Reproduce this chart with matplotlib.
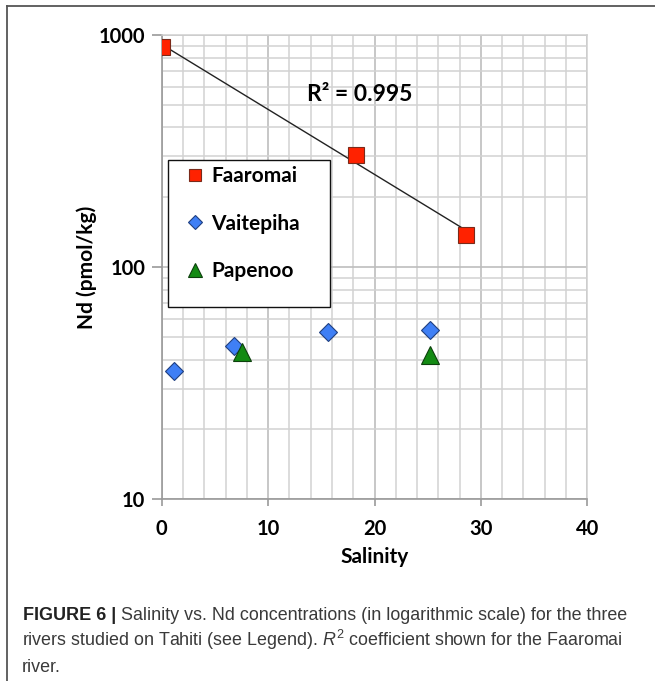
import numpy as np
import matplotlib
matplotlib.use("Agg")
import matplotlib.pyplot as plt
from matplotlib.lines import Line2D
from matplotlib.patches import Rectangle
from matplotlib.ticker import FixedLocator, LogLocator, NullFormatter

# data
faaromai_sal = [0.0, 18.3, 28.6]
faaromai_nd = [885, 303, 137]
vaitepiha_sal = [1.2, 6.8, 15.6, 25.2]
vaitepiha_nd = [35.7, 45.9, 52.7, 53.4]
papenoo_sal = [7.5, 25.2]
papenoo_nd = [43.0, 42.0]
x_ticks = [0, 10, 20, 30, 40]
y_ticks = [10, 100, 1000]
r2_text = "R² = 0.995"

plt.rcParams['font.family'] = ['Lato', 'DejaVu Sans']

fig = plt.figure(figsize=(6.55, 6.81), dpi=100)
ax = fig.add_axes([0.2469, 0.2668, 0.6498, 0.6818])

ax.set_yscale("log")
ax.set_xlim(0, 40)
ax.set_ylim(10, 1000)

ax.xaxis.set_major_locator(FixedLocator(x_ticks))
ax.xaxis.set_minor_locator(FixedLocator(np.arange(0, 41, 2)))
ax.yaxis.set_major_locator(FixedLocator(y_ticks))
ax.yaxis.set_minor_locator(LogLocator(base=10, subs=np.arange(2, 10)))
ax.yaxis.set_minor_formatter(NullFormatter())
ax.set_yticklabels([str(v) for v in y_ticks])
ax.set_xticklabels([str(v) for v in x_ticks])

ax.grid(which="major", color="#bdbdbd", lw=1.2)
ax.grid(which="minor", color="#d2d2d2", lw=1.1)
ax.set_axisbelow(True)

for s in ["top", "right"]:
    ax.spines[s].set_color("#cfcfcf")
    ax.spines[s].set_linewidth(1.1)
for s in ["left", "bottom"]:
    ax.spines[s].set_color("#9a9a9a")
    ax.spines[s].set_linewidth(1.2)

ax.tick_params(axis="y", which="major", length=7, color="#9a9a9a", width=1.2, pad=5)
ax.tick_params(axis="x", which="major", length=5, color="#9a9a9a", width=1.2, pad=9)
ax.tick_params(which="minor", length=0)
for lab in ax.get_xticklabels() + ax.get_yticklabels():
    lab.set_fontweight("bold")
    lab.set_fontsize(14.5)

ax.set_xlabel("Salinity", fontsize=15, fontweight="bold")
ax.set_ylabel("Nd (pmol/kg)", fontsize=15, fontweight="bold")
ax.xaxis.set_label_coords(0.5, -0.103)
ax.yaxis.set_label_coords(-0.152, 0.5)

# exponential trend line for Faaromai
fx = np.array(faaromai_sal)
coef = np.polyfit(fx, np.log10(faaromai_nd), 1)
xs = np.linspace(fx.min(), fx.max(), 50)
ax.plot(xs, 10 ** np.polyval(coef, xs), color="#222222", lw=1.0, zorder=3)

ax.plot(faaromai_sal, faaromai_nd, ls="none", marker="s", ms=12,
        mfc="#ff2200", mec="#7a2a1a", mew=0.8, label="Faaromai", zorder=4)
ax.plot(vaitepiha_sal, vaitepiha_nd, ls="none", marker="D", ms=9.5,
        mfc="#3f7ff5", mec="#1f3f80", mew=0.8, label="Vaitepiha", zorder=4)
ax.plot(papenoo_sal, papenoo_nd, ls="none", marker="^", ms=13,
        mfc="#138a13", mec="#0d400d", mew=0.8, label="Papenoo", zorder=5)

ax.text(18.6, 555, r2_text, fontsize=16.5, fontweight="bold", ha="center", va="center")

# legend box is taller than its entries, so draw the frame separately
box = Rectangle((0.0148, 0.4142), 0.3806, 0.3166, transform=ax.transAxes,
                facecolor="white", edgecolor="#111111", lw=1.0, zorder=6)
ax.add_patch(box)
leg = ax.legend(loc="upper left", bbox_to_anchor=(0.038, 0.7308),
                borderaxespad=0, frameon=False, borderpad=0.3, labelspacing=1.32,
                handlelength=1.0, handletextpad=0.3, markerscale=0.75,
                prop={"weight": "bold", "size": 15})
leg.set_zorder(7)

# outer frame (top and left only)
fig.add_artist(Line2D([7 / 655, 1], [1 - 6 / 681, 1 - 6 / 681], color="#555555", lw=1.3))
fig.add_artist(Line2D([7 / 655, 7 / 655], [0, 1 - 6 / 681], color="#555555", lw=1.3))

# caption
cap_font = ['Liberation Sans', 'DejaVu Sans']
plt.rcParams['mathtext.fontset'] = 'custom'
plt.rcParams['mathtext.rm'] = 'Liberation Sans'
plt.rcParams['mathtext.it'] = 'Liberation Sans:italic'
t1 = fig.text(23 / 655, 1 - 620 / 681, "FIGURE 6 |", fontsize=13, fontweight="bold",
              color="#222222", family=cap_font, va="baseline")
bg = fig.add_axes([0, 0, 1, 1], zorder=-5)
bg.axis("off")
bg.annotate(" Salinity vs. Nd concentrations (in logarithmic scale) for the three",
            xy=(1, 0), xycoords=t1, va="bottom", ha="left", fontsize=12.9,
            color="#3a3a3a", family=cap_font)
fig.text(22 / 655, 1 - 646 / 681,
         r"rivers studied on Tahiti (see Legend). $R^2$ coefficient shown for the Faaromai",
         fontsize=12.9, color="#3a3a3a", family=cap_font, va="baseline")
fig.text(22 / 655, 1 - 672 / 681, "river.", fontsize=12.9, color="#3a3a3a",
         family=cap_font, va="baseline")

fig.savefig("out.png", dpi=100)
